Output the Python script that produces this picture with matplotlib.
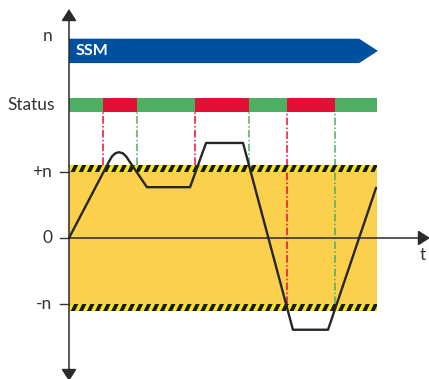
import matplotlib.pyplot as plt
from matplotlib.patches import Polygon, Rectangle
import numpy as np

# switching times (t) where n(t) crosses the limit band
switch_t = [0.0, 1.10, 2.21, 4.09, 5.84, 7.08, 8.64, 10.0]
status = ["ok", "bad", "ok", "bad", "ok", "bad", "ok"]
# which dashed markers reach down to the -n band
marker_low = [False, False, False, False, True, True]

# speed profile n(t)
curve_t = [0.0, 1.30, 1.40, 1.51, 1.62, 1.74, 1.85, 1.95, 2.53, 3.93, 4.45, 5.65, 7.27, 8.41, 9.97]
curve_n = [0.0, 1.16, 1.24, 1.285, 1.30, 1.285, 1.24, 1.17, 0.77, 0.77, 1.44, 1.44, -1.39, -1.39, 0.76]

limit_n = 1.0
band = 0.11
t_end = 10.0

tick_vals = [1.0, 0.0, -1.0]
tick_text = ["+n", "0", "-n"]

# layout (pixels of the 429x379 picture)
W, H = 429, 379
X0, Y0 = 69, 238
PX_T, PX_N = 30.8, 66.0

GREEN = "#4caf64"
RED = "#e30f35"
BLUE = "#0050a0"
YELLOW = "#fad04d"
HAZ = "#f8e51e"
INK = "#333333"

plt.rcParams["font.family"] = ["Lato", "DejaVu Sans"]

fig = plt.figure(figsize=(W / 100, H / 100), dpi=100)
ax = fig.add_axes([0, 0, 1, 1])
ax.set_xlim(-X0 / PX_T, (W - X0) / PX_T)
ax.set_ylim((Y0 - H) / PX_N, Y0 / PX_N)
ax.axis("off")

# yellow allowed zone
ax.add_patch(Rectangle((0, -limit_n), t_end, 2 * limit_n, color=YELLOW, lw=0, zorder=1))


def hazard(lo, hi):
    clip = Rectangle((0, lo), t_end, hi - lo, color=HAZ, lw=0, zorder=3)
    ax.add_patch(clip)
    period = 8.1 / PX_T
    wid = 4.2 / PX_T
    slant = 3.5 / PX_T
    for x in np.arange(-1, t_end + 1, period):
        p = Polygon([(x, lo), (x + wid, lo), (x + wid + slant, hi), (x + slant, hi)],
                    closed=True, color="#1a1a1a", lw=0, zorder=3)
        ax.add_patch(p)
        p.set_clip_path(clip)


hazard(limit_n, limit_n + band)
hazard(-limit_n - band, -limit_n)

# status bar
st_lo, st_hi = 1.91, 2.12
ax.barh((st_lo + st_hi) / 2, np.diff(switch_t), left=switch_t[:-1], height=st_hi - st_lo,
        color=[GREEN if s == "ok" else RED for s in status], lw=0, zorder=2)
ax.text(-0.45, (st_lo + st_hi) / 2, "Status", ha="right", va="center", fontsize=12.5, color=INK)

# dashed switching markers
for i, t in enumerate(switch_t[1:-1]):
    col = RED if status[i + 1] == "bad" else GREEN
    bottom = -limit_n if marker_low[i] else limit_n + band
    ax.vlines(t, bottom, st_lo, color=col, lw=1.1, linestyles=(0, (5, 1.5, 1, 1.5)), zorder=2)

# SSM arrow
ssm_lo, ssm_hi, ssm_flat, ssm_tip = 2.65, 3.02, 9.42, 10.03
ax.add_patch(Polygon([(0, ssm_lo), (ssm_flat, ssm_lo), (ssm_tip, (ssm_lo + ssm_hi) / 2),
                      (ssm_flat, ssm_hi), (0, ssm_hi)], closed=True, color=BLUE, lw=0, zorder=2))
ax.text(0.22, (ssm_lo + ssm_hi) / 2, "SSM", color="white", fontsize=11.5, fontweight="bold",
        ha="left", va="center", zorder=3)
ax.text(-0.55, 3.06, "n", ha="right", va="center", fontsize=12.5, color=INK)

# axes with arrows
arrow = dict(arrowstyle="-|>,head_length=7.2,head_width=4.6", mutation_scale=1,
             color="#2b2b2b", lw=1.1, shrinkA=0, shrinkB=0)
ax.annotate("", xy=(0, (Y0 - 9) / PX_N), xytext=(0, 0), arrowprops=arrow,
            annotation_clip=False, zorder=5)
ax.annotate("", xy=(0, (Y0 - 381) / PX_N), xytext=(0, 0), arrowprops=arrow,
            annotation_clip=False, zorder=5)
ax.annotate("", xy=((430 - X0) / PX_T, 0), xytext=(0, 0), arrowprops=arrow,
            annotation_clip=False, zorder=5)
ax.text((423 - X0) / PX_T, -0.25, "t", ha="center", va="center", fontsize=12.5, color=INK)

for v, s in zip(tick_vals, tick_text):
    ax.plot([-9 / PX_T, 0], [v, v], color=INK, lw=1.0, zorder=5)
    ax.text(-0.55, v, s, ha="right", va="center", fontsize=12.5, color=INK)

# speed curve
ax.plot(curve_t, curve_n, color="#262626", lw=1.7, solid_joinstyle="round",
        solid_capstyle="round", zorder=6)

fig.savefig("out.png", dpi=100)
